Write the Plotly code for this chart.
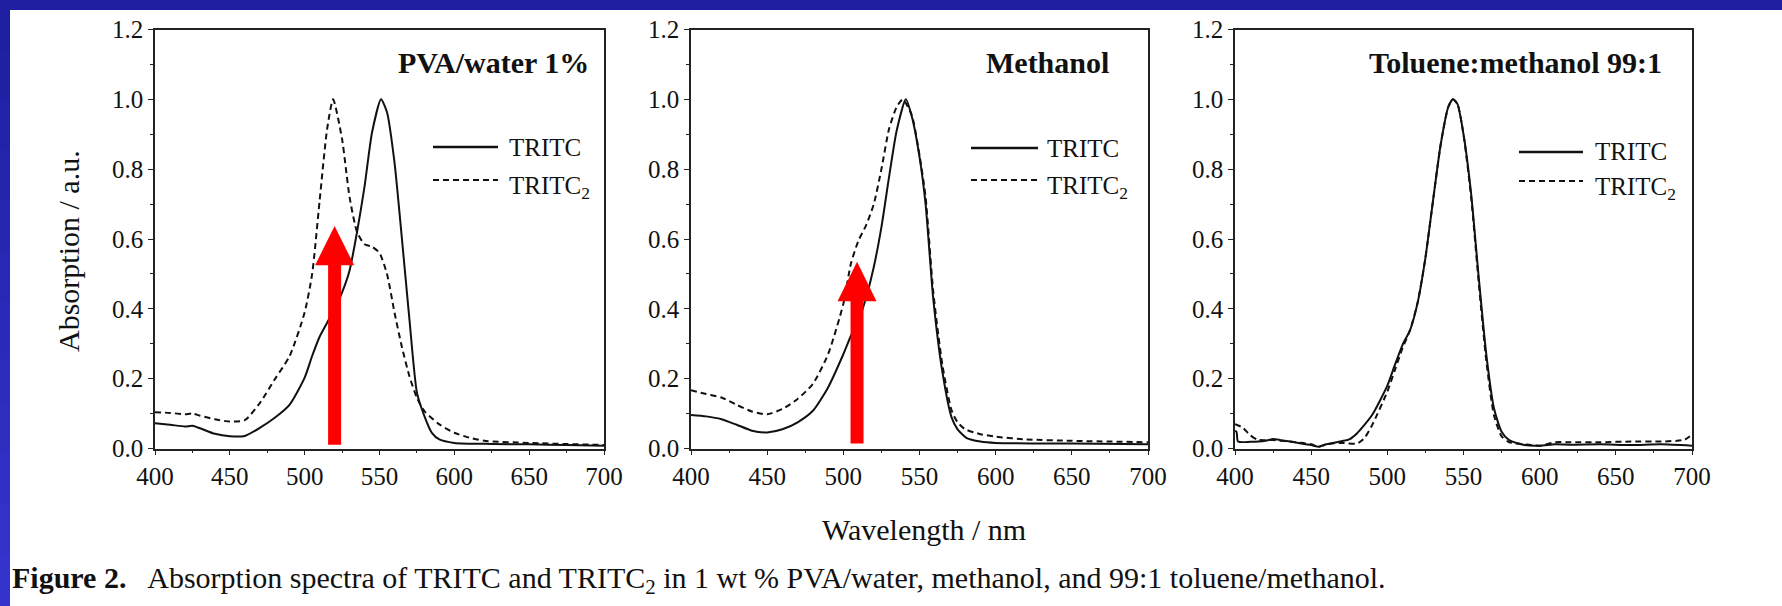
import plotly.graph_objects as go

W, H = 1782, 606

# ---------------- data ----------------
# Panel 1: PVA/water 1%
p1_tritc_wl = [400, 410, 420, 425, 430, 440, 450, 460, 470, 480, 490, 500, 505, 510, 515, 520, 525, 530,
               535, 540, 545, 551, 555, 560, 565, 570, 575, 580, 585, 590, 600, 625, 650, 675, 700]
p1_tritc_abs = [0.072, 0.068, 0.063, 0.065, 0.058, 0.042, 0.035, 0.036, 0.059, 0.088, 0.126, 0.203, 0.265,
                0.320, 0.360, 0.400, 0.447, 0.510, 0.620, 0.750, 0.905, 1.000, 0.963, 0.820, 0.600, 0.370,
                0.160, 0.093, 0.045, 0.026, 0.016, 0.013, 0.012, 0.010, 0.008]
p1_tritc2_wl = [400, 410, 420, 425, 430, 440, 450, 460, 470, 480, 490, 500, 505, 510, 515, 519, 525, 530,
                535, 540, 545, 550, 555, 560, 565, 570, 575, 580, 590, 600, 610, 620, 650, 700]
p1_tritc2_abs = [0.104, 0.102, 0.098, 0.100, 0.094, 0.084, 0.077, 0.081, 0.130, 0.198, 0.265, 0.390, 0.500,
                 0.710, 0.915, 1.000, 0.886, 0.720, 0.620, 0.585, 0.578, 0.560, 0.500, 0.390, 0.290, 0.207,
                 0.145, 0.107, 0.069, 0.045, 0.031, 0.022, 0.016, 0.010]

# Panel 2: Methanol
p2_tritc_wl = [400, 410, 420, 430, 440, 450, 460, 470, 480, 490, 500, 505, 510, 515, 520, 525, 530, 535,
               541, 545, 550, 554, 559, 565, 571, 575, 581, 590, 600, 650, 700]
p2_tritc_abs = [0.096, 0.092, 0.084, 0.068, 0.051, 0.046, 0.055, 0.075, 0.108, 0.175, 0.270, 0.323, 0.366,
                0.433, 0.520, 0.634, 0.777, 0.910, 1.000, 0.950, 0.835, 0.700, 0.430, 0.220, 0.090, 0.055,
                0.030, 0.020, 0.016, 0.014, 0.012]
p2_tritc2_wl = [400, 410, 420, 430, 440, 450, 460, 470, 480, 490, 500, 505, 510, 515, 520, 525, 530, 535,
                539, 545, 550, 554, 559, 565, 571, 575, 580, 590, 600, 620, 650, 700]
p2_tritc2_abs = [0.167, 0.156, 0.146, 0.125, 0.106, 0.098, 0.113, 0.142, 0.185, 0.270, 0.414, 0.530, 0.596,
                 0.640, 0.700, 0.800, 0.915, 0.978, 1.000, 0.954, 0.840, 0.720, 0.450, 0.240, 0.110, 0.075,
                 0.055, 0.041, 0.034, 0.026, 0.022, 0.018]

# Panel 3: Toluene:methanol 99:1
p3_tritc_wl = [400, 401, 402, 410, 420, 425, 430, 440, 450, 455, 460, 470, 475, 480, 490, 500, 505, 510,
               515, 520, 525, 530, 535, 540, 543, 546, 550, 555, 560, 565, 570, 575, 580, 590, 600, 610,
               620, 640, 660, 680, 700]
p3_tritc_abs = [0.050, 0.048, 0.020, 0.019, 0.022, 0.027, 0.024, 0.017, 0.010, 0.005, 0.012, 0.021, 0.026,
                0.043, 0.096, 0.180, 0.240, 0.297, 0.340, 0.420, 0.546, 0.710, 0.870, 0.978, 1.000, 0.987,
                0.900, 0.730, 0.490, 0.268, 0.115, 0.048, 0.024, 0.010, 0.008, 0.012, 0.011, 0.012, 0.010,
                0.012, 0.008]
p3_tritc2_wl = [400, 405, 410, 415, 425, 440, 450, 455, 460, 470, 480, 485, 490, 500, 505, 510, 515, 520,
                525, 530, 535, 540, 543, 546, 550, 555, 560, 565, 570, 575, 580, 590, 600, 610, 620, 640,
                660, 680, 695, 700]
p3_tritc2_abs = [0.070, 0.060, 0.038, 0.025, 0.024, 0.018, 0.012, 0.005, 0.012, 0.016, 0.014, 0.030, 0.067,
                 0.163, 0.225, 0.288, 0.340, 0.420, 0.546, 0.710, 0.870, 0.978, 1.000, 0.987, 0.900, 0.720,
                 0.475, 0.250, 0.095, 0.035, 0.018, 0.012, 0.008, 0.018, 0.018, 0.018, 0.020, 0.020, 0.025,
                 0.040]

panel_titles = ["PVA/water 1%", "Methanol", "Toluene:methanol 99:1"]
series_names = ["TRITC", "TRITC<sub>2</sub>"]
x_ticks = [400, 450, 500, 550, 600, 650, 700]
y_ticks = [0.0, 0.2, 0.4, 0.6, 0.8, 1.0, 1.2]

# red arrows (panel index, wavelength, tail, head base, tip)
arrow_panel = [0, 1]
arrow_wl = [520, 509]
arrow_tail = [0.011, 0.014]
arrow_head_base = [0.525, 0.422]
arrow_tip = [0.637, 0.535]

# ---------------- layout geometry (pixels) ----------------
x_px = [(155, 604), (691, 1148), (1235, 1692)]
y_top_px, y_bot_px = 29.5, 448.5
title_right_px = [591, 1111, 1664]
title_y_px = [63, 62, 63]
leg_x_px = [(433, 498, 507), (971, 1038, 1045), (1519, 1583, 1593)]
leg_y_px = [(147, 180), (148, 180), (152, 181)]

FONT = "Liberation Serif"
INK = "#111111"

def px(xp):
    return xp / W

def py(yp):
    return 1 - yp / H

data = [
    (p1_tritc_wl, p1_tritc_abs, p1_tritc2_wl, p1_tritc2_abs),
    (p2_tritc_wl, p2_tritc_abs, p2_tritc2_wl, p2_tritc2_abs),
    (p3_tritc_wl, p3_tritc_abs, p3_tritc2_wl, p3_tritc2_abs),
]

fig = go.Figure()
layout = dict(
    width=W, height=H,
    margin=dict(l=0, r=0, t=0, b=0, pad=0),
    paper_bgcolor="white", plot_bgcolor="white",
    showlegend=False,
    font=dict(family=FONT, color=INK),
)

shapes = []
annotations = []

for i, (wa, va, wb, vb) in enumerate(data):
    sfx = "" if i == 0 else str(i + 1)
    xa, ya = "x" + sfx, "y" + sfx
    fig.add_trace(go.Scatter(x=wa, y=va, mode="lines", xaxis=xa, yaxis=ya,
                             line=dict(color=INK, width=2, shape="spline", smoothing=0.6)))
    fig.add_trace(go.Scatter(x=wb, y=vb, mode="lines", xaxis=xa, yaxis=ya,
                             line=dict(color=INK, width=2, dash="6px,4px", shape="spline", smoothing=0.6)))
    x0, x1 = x_px[i]
    axis_common = dict(showline=True, linecolor="#222222", linewidth=1.6, mirror=True, automargin=False,
                       showgrid=False, zeroline=False, ticks="outside", ticklen=5, tickwidth=1.2,
                       tickcolor="#222222", tickfont=dict(family=FONT, size=25, color=INK))
    layout["xaxis" + sfx] = dict(domain=[px(x0), px(x1)], anchor=ya, range=[400, 700],
                                 tickvals=x_ticks, minor=dict(dtick=25, ticks="outside", ticklen=3,
                                                              tickcolor="#222222"),
                                 **axis_common)
    layout["yaxis" + sfx] = dict(domain=[py(y_bot_px), py(y_top_px)], anchor=xa, range=[0, 1.2],
                                 tickvals=y_ticks, tickformat=".1f",
                                 minor=dict(dtick=0.1, ticks="outside", ticklen=3, tickcolor="#222222"),
                                 **axis_common)
    # panel title
    annotations.append(dict(text="<b>" + panel_titles[i] + "</b>", xref="paper", yref="paper",
                            x=px(title_right_px[i]), y=py(title_y_px[i]), xanchor="right", yanchor="middle",
                            showarrow=False, font=dict(family=FONT, size=30, color=INK)))
    # legend samples
    lx0, lx1, ltx = leg_x_px[i]
    for j, dash in enumerate(["solid", "6px,4px"]):
        yy = py(leg_y_px[i][j])
        shapes.append(dict(type="line", xref="paper", yref="paper", x0=px(lx0), x1=px(lx1), y0=yy, y1=yy,
                           line=dict(color=INK, width=2.5 if j == 0 else 2, dash=dash)))
        annotations.append(dict(text=series_names[j], xref="paper", yref="paper", x=px(ltx),
                                y=yy - (0.012 if j == 1 else 0), xanchor="left", yanchor="middle",
                                showarrow=False, font=dict(family=FONT, size=25, color=INK)))

# red arrows
for k in range(len(arrow_panel)):
    i = arrow_panel[k]
    sfx = "" if i == 0 else str(i + 1)
    xa, ya = "x" + sfx, "y" + sfx
    nm_per_px = 300.0 / (x_px[i][1] - x_px[i][0])
    shaft_hw = 6.5 * nm_per_px
    head_hw = 19.5 * nm_per_px
    c = arrow_wl[k]
    shapes.append(dict(type="rect", xref=xa, yref=ya, x0=c - shaft_hw, x1=c + shaft_hw,
                       y0=arrow_tail[k], y1=arrow_head_base[k] + 0.005,
                       fillcolor="#ff0000", line=dict(width=0)))
    path = "M {a},{b} L {c},{t} L {d},{b} Z".format(a=c - head_hw, b=arrow_head_base[k], c=c,
                                                    t=arrow_tip[k], d=c + head_hw)
    shapes.append(dict(type="path", xref=xa, yref=ya, path=path, fillcolor="#ff0000", line=dict(width=0)))

# blue frame (top band + left band with gentle gradient)
shapes.append(dict(type="rect", xref="paper", yref="paper", x0=0, x1=1, y0=py(10), y1=1,
                   fillcolor="#1e1ea0", line=dict(width=0), layer="above"))
nseg = 12
for s in range(nseg):
    t = s / (nseg - 1)
    r = int(0x1e + (0x34 - 0x1e) * t)
    g = int(0x1e + (0x34 - 0x1e) * t)
    b = int(0xa0 + (0xcc - 0xa0) * t)
    shapes.append(dict(type="rect", xref="paper", yref="paper", x0=0, x1=px(10),
                       y0=1 - (s + 1) / nseg, y1=1 - s / nseg + 0.002,
                       fillcolor="rgb({},{},{})".format(r, g, b), line=dict(width=0), layer="above"))

# axis titles and caption
annotations.append(dict(text="Absorption / a.u.", xref="paper", yref="paper", x=px(68), y=py(251),
                        textangle=-90, xanchor="center", yanchor="middle", showarrow=False,
                        font=dict(family=FONT, size=30, color=INK)))
annotations.append(dict(text="Wavelength / nm", xref="paper", yref="paper", x=px(924), y=py(529),
                        xanchor="center", yanchor="middle", showarrow=False,
                        font=dict(family=FONT, size=30, color=INK)))
annotations.append(dict(text="<b>Figure 2.</b>   Absorption spectra of TRITC and TRITC<sub>2</sub> in 1 wt % "
                             "PVA/water, methanol, and 99:1 toluene/methanol.",
                        xref="paper", yref="paper", x=px(10), y=py(580), xanchor="left", yanchor="middle",
                        showarrow=False, font=dict(family=FONT, size=30, color=INK)))

layout["shapes"] = shapes
layout["annotations"] = annotations
fig.update_layout(**layout)
fig.write_html("out.html",
               config={"displayModeBar": False},
               post_script="document.body.style.margin='0px';document.body.style.padding='0px';"
                           "document.body.style.overflow='hidden';")
